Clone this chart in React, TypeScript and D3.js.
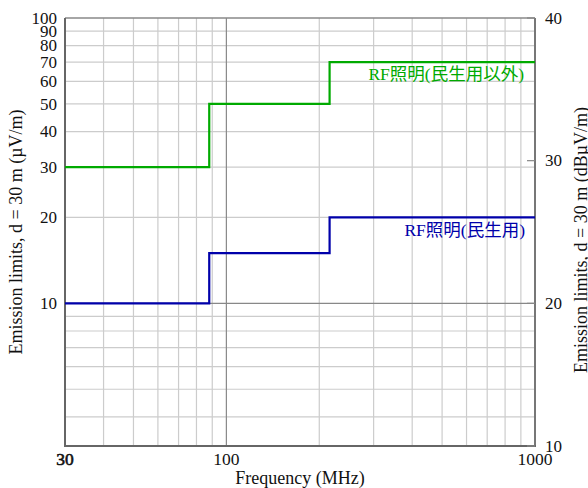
import React from "react";
import * as d3 from "d3";

// Frequency breakpoints (MHz) and limit levels (µV/m at 30 m)
const freqEdges = [30, 88, 216, 1000];
const nonResidentialLimits = [30, 50, 70];
const residentialLimits = [10, 15, 20];

const xMajorTicks = [30, 100, 1000];
const xMinorTicks = [40, 50, 60, 70, 80, 90, 200, 300, 400, 500, 600, 700, 800, 900];
const yLeftTicks = [10, 20, 30, 40, 50, 60, 70, 80, 90, 100];
const yMinorTicks = [4, 5, 6, 7, 8, 9, 20, 30, 40, 50, 60, 70, 80, 90];
const yRightTicks = [10, 20, 30, 40];

const seriesLabels = ["RF照明(民生用以外)", "RF照明(民生用)"];

const W = 588;
const H = 488;
const left = 65;
const right = 535;
const top = 18;
const bottom = 446;

const FONT = "'Liberation Serif', 'Noto Sans CJK JP', serif";

export default function App() {
  const x = d3.scaleLog().domain([30, 1000]).range([left, right]);
  const y = d3.scaleLog().domain([Math.pow(10, 0.5), 100]).range([bottom, top]);
  const yDb = d3.scaleLinear().domain([10, 40]).range([bottom, top]);

  const stepPoints = (levels: number[]) => {
    const pts: [number, number][] = [];
    levels.forEach((v, i) => {
      pts.push([freqEdges[i], v]);
      pts.push([freqEdges[i + 1], v]);
    });
    return pts;
  };

  const line = d3
    .line<[number, number]>()
    .x((d) => x(d[0]))
    .y((d) => y(d[1]));

  const green = "#00aa00";
  const blue = "#0000aa";

  return (
    <svg
      width={W}
      height={H}
      style={{ position: "absolute", left: 0, top: 0, background: "#fff", fontFamily: FONT }}
    >
      {/* light grid */}
      {xMinorTicks.map((t) => (
        <line key={"gx" + t} x1={x(t)} x2={x(t)} y1={top} y2={bottom} stroke="#cccccc" strokeWidth={1.2} />
      ))}
      {yMinorTicks.map((t) => (
        <line key={"gy" + t} x1={left} x2={right} y1={y(t)} y2={y(t)} stroke="#cccccc" strokeWidth={1.2} />
      ))}
      {/* decade lines */}
      <line x1={x(100)} x2={x(100)} y1={top} y2={bottom} stroke="#888888" strokeWidth={1.2} />
      <line x1={left} x2={right} y1={y(10)} y2={y(10)} stroke="#888888" strokeWidth={1.2} />

      {/* frame */}
      <line x1={left} x2={right} y1={top} y2={top} stroke="#888888" strokeWidth={1.5} />
      <line x1={right} x2={right} y1={top} y2={bottom + 1} stroke="#777777" strokeWidth={2} />
      <line x1={left} x2={left} y1={top} y2={bottom + 1} stroke="#666666" strokeWidth={2} />
      <line x1={left - 1} x2={right + 1} y1={bottom} y2={bottom} stroke="#666666" strokeWidth={2} />

      {/* right axis inward ticks */}
      {yRightTicks.map((t) => (
        <line key={"rt" + t} x1={right - 8} x2={right} y1={yDb(t)} y2={yDb(t)} stroke="#888888" strokeWidth={1.2} />
      ))}

      {/* limit lines */}
      <path d={line(stepPoints(nonResidentialLimits)) || ""} fill="none" stroke={green} strokeWidth={2.2} />
      <path d={line(stepPoints(residentialLimits)) || ""} fill="none" stroke={blue} strokeWidth={2.2} />

      {/* series labels */}
      <text x={524} y={y(70) + 18} textAnchor="end" fontSize={17.5} fill={green}>
        {seriesLabels[0]}
      </text>
      <text x={525} y={y(20) + 19} textAnchor="end" fontSize={17.5} fill={blue}>
        {seriesLabels[1]}
      </text>

      {/* left tick labels */}
      {yLeftTicks.map((t) => (
        <text key={"ly" + t} x={57} y={y(t)} dy="0.33em" textAnchor="end" fontSize={17} fill="#111">
          {t}
        </text>
      ))}

      {/* right tick labels */}
      {yRightTicks.map((t) => (
        <text key={"ry" + t} x={545} y={yDb(t)} dy="0.33em" textAnchor="start" fontSize={17} fill="#111">
          {t}
        </text>
      ))}

      {/* bottom tick labels */}
      {xMajorTicks.map((t) => (
        <text
          key={"bx" + t}
          x={x(t)}
          y={465}
          textAnchor="middle"
          fontSize={17.5}
          fill="#111"
          stroke={t === 30 ? "#111" : "none"}
          strokeWidth={t === 30 ? 0.6 : 0}
        >
          {t}
        </text>
      ))}

      {/* axis titles */}
      <text x={300} y={484} textAnchor="middle" fontSize={18} fill="#111">
        Frequency (MHz)
      </text>
      <text
        transform={`translate(22, ${(top + bottom) / 2}) rotate(-90)`}
        textAnchor="middle"
        fontSize={18}
        fill="#111"
      >
        Emission limits, d = 30 m (µV/m)
      </text>
      <text
        transform={`translate(587, ${(top + bottom) / 2 + 8}) rotate(-90)`}
        textAnchor="middle"
        fontSize={18}
        fill="#111"
      >
        Emission limits, d = 30 m (dBµV/m)
      </text>
    </svg>
  );
}
